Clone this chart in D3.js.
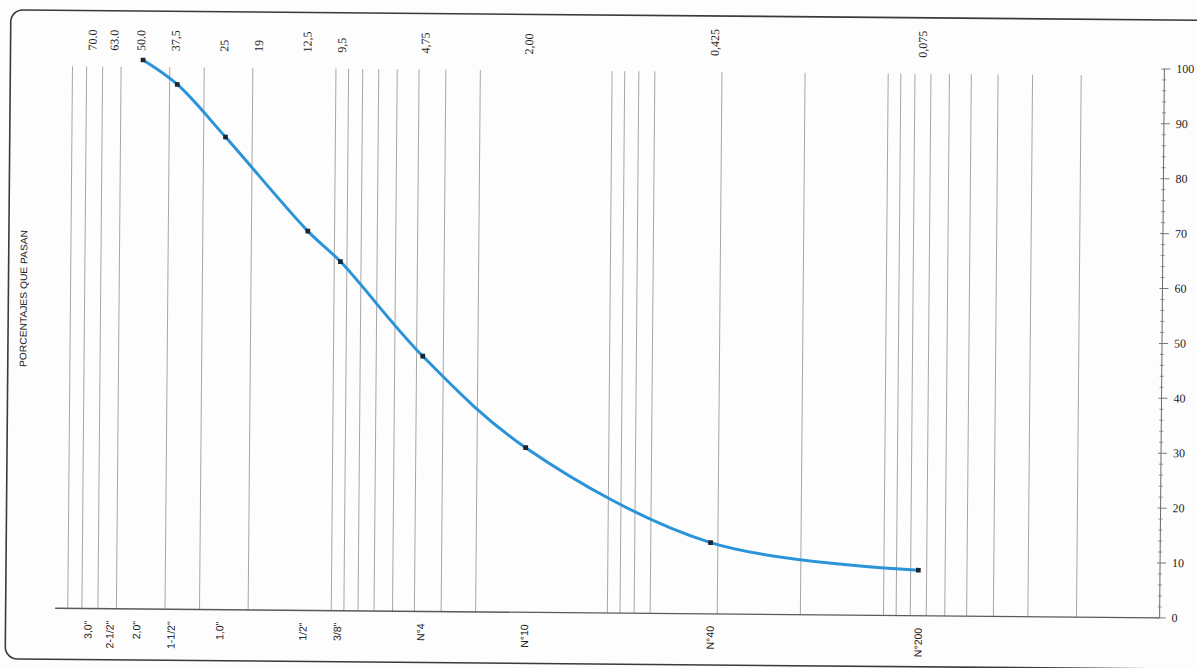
<!DOCTYPE html>
<html>
<head>
<meta charset="utf-8">
<script src="https://cdn.jsdelivr.net/npm/d3@7"></script>
<style>
  html, body { margin: 0; padding: 0; background: #fdfdfd; }
  svg { display: block; }
</style>
</head>
<body>
<svg id="chart" width="1197" height="668"></svg>
<script>
// ---- data ----
const sieveSizesMM = [50, 37.5, 25, 12.5, 9.5, 4.75, 2.00, 0.425, 0.075];
const percentPassing = [100, 95.6, 86.1, 69.1, 63.6, 46.5, 30.0, 13.0, 8.3];

const labelSizesMM = [76.2, 63.5, 50.8, 38.1, 25.4, 19.05, 12.7, 9.525, 4.75, 2.0, 0.425, 0.075];
const topLabels = ["70.0", "63.0", "50.0", "37,5", "25", "19", "12,5", "9,5", "4,75", "2,00", "0,425", "0,075"];
const bottomLabels = ['3,0"', '2-1/2"', '2,0"', '1-1/2"', '1,0"', '', '1/2"', '3/8"', 'N°4', 'N°10', 'N°40', 'N°200'];

const gridSizesMM = [90, 80, 70, 60, 40, 30, 20, 10, 9, 8, 7, 6, 5, 4, 3, 1,
  0.9, 0.8, 0.7, 0.4, 0.2, 0.1, 0.09, 0.08, 0.07, 0.06, 0.05, 0.04, 0.03, 0.02];
const yTickValues = [0, 10, 20, 30, 40, 50, 60, 70, 80, 90, 100];
const yMinorValues = [2, 4, 6, 8, 12, 14, 16, 18, 22, 24, 26, 28, 32, 34, 36, 38, 42, 44, 46, 48,
  52, 54, 56, 58, 62, 64, 66, 68, 72, 74, 76, 78, 82, 84, 86, 88, 92, 94, 96, 98];
const yTitle = "PORCENTAJES QUE PASAN";

// ---- layout ----
const svg = d3.select("#chart");
const root = svg.append("g").attr("transform", "rotate(0.5, 600, 340)");

const x = d3.scaleLog().domain([100, 0.01]).range([57.5, 1162]);
const y = d3.scaleLinear().domain([0, 100]).range([613, 64]);

// frame
root.append("rect")
  .attr("x", 8).attr("y", 15).attr("width", 1260).attr("height", 649)
  .attr("rx", 12).attr("ry", 12)
  .attr("fill", "none").attr("stroke", "#3a3a3a").attr("stroke-width", 1.6);

// vertical grid
root.append("g").selectAll("line").data(gridSizesMM).join("line")
  .attr("x1", d => x(d)).attr("x2", d => x(d))
  .attr("y1", y(100) + 7).attr("y2", y(0))
  .attr("stroke", "#9c9c9c").attr("stroke-width", 0.9);

// bottom axis line
root.append("line")
  .attr("x1", x(100)).attr("x2", x(0.01))
  .attr("y1", y(0)).attr("y2", y(0))
  .attr("stroke", "#5a5a5a").attr("stroke-width", 1.3);

// right axis
const rx = x(0.01);
root.append("line")
  .attr("x1", rx).attr("x2", rx).attr("y1", y(100)).attr("y2", y(0))
  .attr("stroke", "#6a6a6a").attr("stroke-width", 1);
root.append("g").selectAll("line").data(yMinorValues).join("line")
  .attr("x1", rx - 2).attr("x2", rx + 2)
  .attr("y1", d => y(d)).attr("y2", d => y(d))
  .attr("stroke", "#777").attr("stroke-width", 0.8);
root.append("g").selectAll("line").data(yTickValues).join("line")
  .attr("x1", rx - 3).attr("x2", rx + 6)
  .attr("y1", d => y(d)).attr("y2", d => y(d))
  .attr("stroke", "#777").attr("stroke-width", 1);
root.append("g").selectAll("text").data(yTickValues).join("text")
  .attr("x", rx + 12).attr("y", d => y(d))
  .attr("dominant-baseline", "central")
  .attr("font-family", "'Liberation Serif', serif")
  .attr("font-size", 12).attr("fill", "#222")
  .text(d => d);

// top labels (mm)
root.append("g").selectAll("text").data(labelSizesMM).join("text")
  .attr("transform", d => `translate(${x(d)},55) rotate(-90)`)
  .attr("text-anchor", "start").attr("dominant-baseline", "central")
  .attr("font-family", "'Liberation Serif', serif")
  .attr("font-size", 12).attr("fill", "#1a1a1a")
  .text((d, i) => topLabels[i]);

// bottom labels (sieve designations)
root.append("g").selectAll("text").data(labelSizesMM).join("text")
  .attr("transform", d => `translate(${x(d)},625) rotate(-90)`)
  .attr("text-anchor", "end").attr("dominant-baseline", "central")
  .attr("font-family", "'Liberation Sans', Arial, sans-serif")
  .attr("font-size", 10.5).attr("fill", "#1a1a1a")
  .text((d, i) => bottomLabels[i]);

// y title
root.append("text")
  .attr("transform", `translate(23,${(235 + 372) / 2}) rotate(-90)`)
  .attr("text-anchor", "middle").attr("dominant-baseline", "central")
  .attr("font-family", "'Liberation Sans Narrow', 'Liberation Sans', sans-serif")
  .attr("font-size", 9.5).attr("fill", "#222")
  .attr("textLength", 137).attr("lengthAdjust", "spacingAndGlyphs")
  .text(yTitle);

// curve
const pts = sieveSizesMM.map((d, i) => [x(d), y(percentPassing[i])]);
root.append("path")
  .attr("d", d3.line().curve(d3.curveCatmullRom.alpha(0.5))(pts))
  .attr("fill", "none").attr("stroke", "#2b93d8").attr("stroke-width", 3)
  .attr("stroke-linecap", "round");

// markers
root.append("g").selectAll("path").data(pts).join("path")
  .attr("transform", d => `translate(${d[0]},${d[1]})`)
  .attr("d", d3.symbol(d3.symbolSquare, 22))
  .attr("fill", "#1b2633");
</script>
</body>
</html>
